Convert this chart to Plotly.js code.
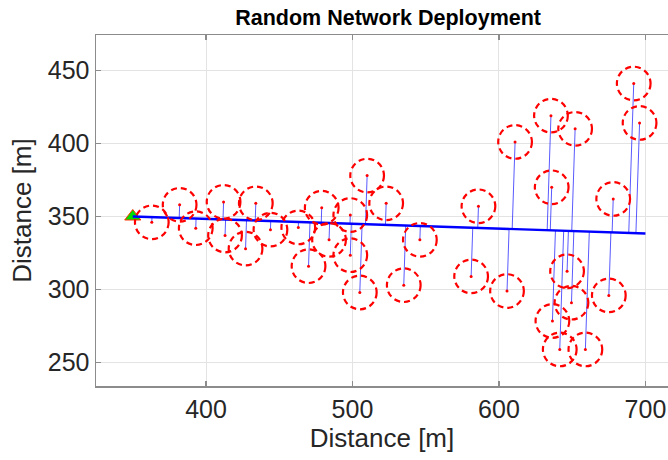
<!DOCTYPE html>
<html>
<head>
<meta charset="utf-8">
<script src="https://cdn.plot.ly/plotly-3.0.1.min.js"></script>
<style>html,body{margin:0;padding:0;background:#fff;}#chart{width:668px;height:460px;}</style>
</head>
<body>
<div id="chart"></div>
<script>
// Sensor node positions [m]
const nodeX = [363, 382, 393, 412, 413, 427, 434, 444, 463, 470, 479, 484, 498.5, 498.5, 510, 505, 523, 535, 546,
               581, 586, 605.5, 611, 635.5, 636, 636.5, 641.5, 646.5, 649.5, 652, 659, 675, 678, 692, 696];
const nodeY = [346, 358, 342, 360, 337, 328, 359, 341, 342.5, 316, 356, 334, 351, 323.5, 378, 298, 359, 303, 334,
               309, 357, 299, 401, 419, 370, 278.5, 259, 312.5, 291, 410, 259, 296, 362, 441, 414];
// Mobile sink route (start / end)
const routeX = [350, 700];
const routeY = [350, 338.4];
// Start point
const startX = [350];
const startY = [350];
// Communication range radius [m]
const rangeR = 11.5;
// Axis ticks
const xTicks = [400, 500, 600, 700];
const yTicks = [250, 300, 350, 400, 450];

// Perpendicular foot of each node on the route
const dx = routeX[1] - routeX[0], dy = routeY[1] - routeY[0];
const dd = dx * dx + dy * dy;
const stemX = [], stemY = [];
nodeX.forEach((px, i) => {
  const py = nodeY[i];
  const t = ((px - routeX[0]) * dx + (py - routeY[0]) * dy) / dd;
  stemX.push(px, routeX[0] + t * dx, null);
  stemY.push(py, routeY[0] + t * dy, null);
});

const traces = [
  {x: stemX, y: stemY, mode: 'lines', line: {color: 'rgba(0,0,255,0.65)', width: 1}, hoverinfo: 'skip'},
  {x: startX, y: startY, mode: 'markers', marker: {symbol: 'triangle-up', size: 14, color: '#00dd00', line: {color: '#ff3300', width: 1}}},
  {x: routeX, y: routeY, mode: 'lines', line: {color: '#0000ff', width: 2.4}},
  {x: nodeX, y: nodeY, mode: 'markers', marker: {symbol: 'circle', size: 3, color: '#ff0000'}}
];

const shapes = nodeX.map((cx, i) => ({
  type: 'circle', xref: 'x', yref: 'y',
  x0: cx - rangeR, x1: cx + rangeR, y0: nodeY[i] - rangeR, y1: nodeY[i] + rangeR,
  line: {color: '#ff0000', width: 2.2, dash: '6px,4px'}, layer: 'above'
}));

const fontFam = '"Liberation Sans", Arial, Helvetica, sans-serif';
const layout = {
  width: 668, height: 460,
  margin: {l: 96, r: 0, t: 35, b: 74},
  paper_bgcolor: '#ffffff', plot_bgcolor: '#ffffff',
  showlegend: false,
  font: {family: fontFam, color: '#262626'},
  title: {text: '<b>Random Network Deployment</b>', font: {family: fontFam, size: 21.5, color: '#000000'},
          xref: 'container', x: 0.581, xanchor: 'center', yref: 'container', y: 0.962, yanchor: 'middle'},
  xaxis: {
    range: [324.9, 715.4], tickvals: xTicks, ticktext: xTicks.map(String),
    showgrid: true, gridcolor: '#e3e3e3', gridwidth: 1,
    showline: true, linecolor: '#8c8c8c', linewidth: 1.5, mirror: 'ticks',
    ticks: 'inside', ticklen: 5, tickcolor: '#8c8c8c', tickwidth: 1.5,
    tickfont: {size: 25, color: '#262626'}, zeroline: false,
    title: {text: 'Distance [m]', font: {size: 26, color: '#262626'}, standoff: 7}
  },
  yaxis: {
    range: [234, 474.2], tickvals: yTicks, ticktext: yTicks.map(String),
    showgrid: true, gridcolor: '#e3e3e3', gridwidth: 1,
    showline: true, linecolor: '#8c8c8c', linewidth: 1.5, mirror: false,
    ticks: 'inside', ticklen: 5, tickcolor: '#8c8c8c', tickwidth: 1.5,
    tickfont: {size: 25, color: '#262626'}, zeroline: false,
    title: {text: 'Distance [m]', font: {size: 26, color: '#262626'}, standoff: 8}
  },
  shapes: shapes
};

Plotly.newPlot('chart', traces, layout, {displayModeBar: false, staticPlot: true});
</script>
</body>
</html>
